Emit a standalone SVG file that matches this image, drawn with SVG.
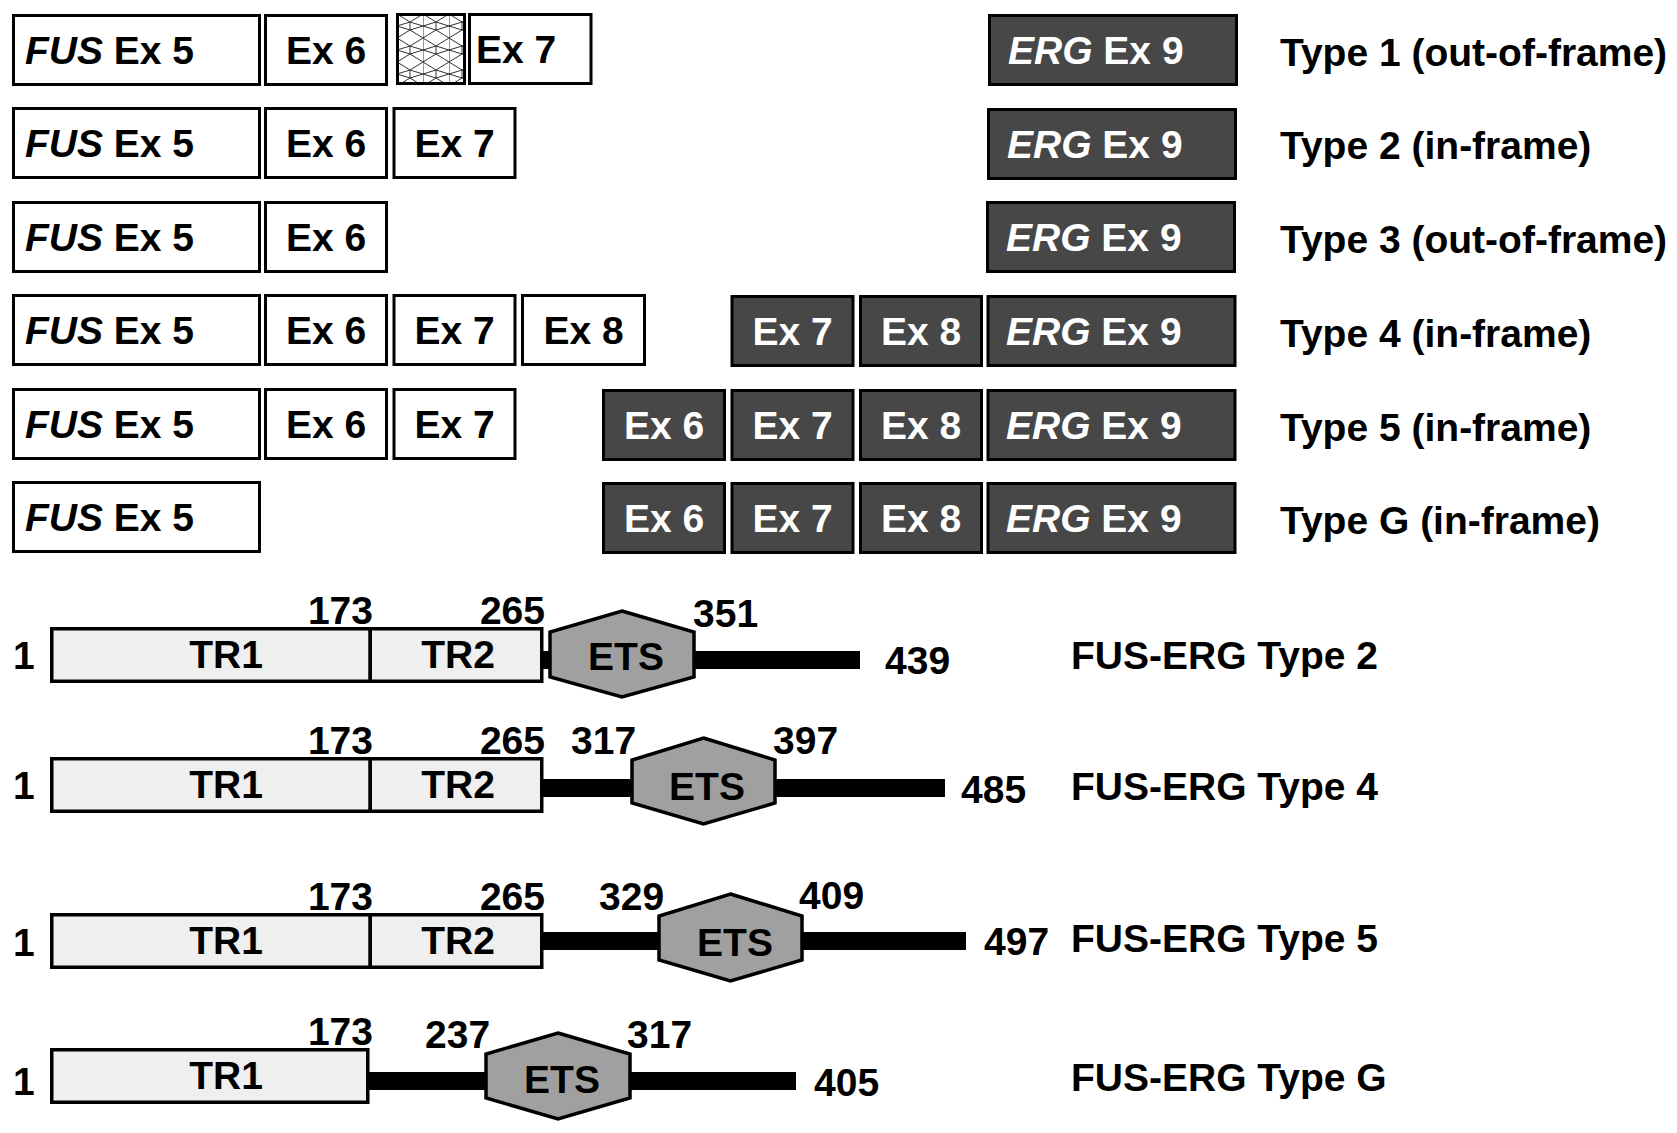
<svg xmlns="http://www.w3.org/2000/svg" width="1677" height="1133" viewBox="0 0 1677 1133">
<defs>
<pattern id="mesh" width="26" height="24" patternUnits="userSpaceOnUse" x="397" y="14">
<rect width="26" height="24" fill="#fff"/>
<path d="M0,0 L13,8 L26,0 M0,24 L13,16 L26,24 M13,8 L13,16 M0,0 L0,24 M13,8 L0,12 L13,16 M13,8 L26,12 L13,16" fill="none" stroke="#333" stroke-width="1"/>
</pattern>
<style>
text{font-family:"Liberation Sans",Arial,sans-serif;font-weight:bold;font-size:39px;fill:#000}
.w{fill:#fff;stroke:#000;stroke-width:3}
.d{fill:#474747;stroke:#000;stroke-width:3}
.dt{fill:#fff}
.c{text-anchor:middle}
.e{text-anchor:end}
.tr{fill:#efefef;stroke:#000;stroke-width:3.5}
.hex{fill:#a0a0a0;stroke:#000;stroke-width:3.5}
.bar{fill:#000}
.i{font-style:italic}
</style>
</defs>
<rect width="1677" height="1133" fill="#fff"/>

<!-- Row 1 -->
<g id="row1">
<rect class="w" x="13.5" y="15.5" width="246" height="69"/>
<text x="25" y="64"><tspan class="i">FUS</tspan> Ex 5</text>
<rect class="w" x="265.5" y="15.5" width="121" height="69"/>
<text class="c" x="326" y="64">Ex 6</text>
<rect x="397.5" y="14.5" width="67" height="69" fill="url(#mesh)" stroke="#000" stroke-width="3"/>
<rect class="w" x="469.5" y="14.5" width="121.5" height="69"/>
<text x="476" y="63">Ex 7</text>
<rect class="d" x="989.5" y="15.5" width="247" height="69"/>
<text class="dt" x="1008" y="64"><tspan class="i">ERG</tspan> Ex 9</text>
<text x="1280" y="66">Type 1 (out-of-frame)</text>
</g>

<!-- Row 2 -->
<g id="row2">
<rect class="w" x="13.5" y="108.5" width="246" height="69"/>
<text x="25" y="157"><tspan class="i">FUS</tspan> Ex 5</text>
<rect class="w" x="265.5" y="108.5" width="121" height="69"/>
<text class="c" x="326" y="157">Ex 6</text>
<rect class="w" x="394" y="108.5" width="121" height="69"/>
<text class="c" x="454.5" y="157">Ex 7</text>
<rect class="d" x="988.5" y="109.5" width="247" height="69"/>
<text class="dt" x="1007" y="158"><tspan class="i">ERG</tspan> Ex 9</text>
<text x="1280" y="159">Type 2 (in-frame)</text>
</g>

<!-- Row 3 -->
<g id="row3">
<rect class="w" x="13.5" y="202.5" width="246" height="69"/>
<text x="25" y="251"><tspan class="i">FUS</tspan> Ex 5</text>
<rect class="w" x="265.5" y="202.5" width="121" height="69"/>
<text class="c" x="326" y="251">Ex 6</text>
<rect class="d" x="987.5" y="202.5" width="247" height="69"/>
<text class="dt" x="1006" y="251"><tspan class="i">ERG</tspan> Ex 9</text>
<text x="1280" y="253">Type 3 (out-of-frame)</text>
</g>

<!-- Row 4 -->
<g id="row4">
<rect class="w" x="13.5" y="295.5" width="246" height="69"/>
<text x="25" y="344"><tspan class="i">FUS</tspan> Ex 5</text>
<rect class="w" x="265.5" y="295.5" width="121" height="69"/>
<text class="c" x="326" y="344">Ex 6</text>
<rect class="w" x="394" y="295.5" width="121" height="69"/>
<text class="c" x="454.5" y="344">Ex 7</text>
<rect class="w" x="522.5" y="295.5" width="122" height="69"/>
<text class="c" x="583.5" y="344">Ex 8</text>
<rect class="d" x="732" y="296.5" width="121" height="69"/>
<text class="c dt" x="792.5" y="345">Ex 7</text>
<rect class="d" x="860.5" y="296.5" width="121" height="69"/>
<text class="c dt" x="921" y="345">Ex 8</text>
<rect class="d" x="988" y="296.5" width="247" height="69"/>
<text class="dt" x="1006" y="345"><tspan class="i">ERG</tspan> Ex 9</text>
<text x="1280" y="347">Type 4 (in-frame)</text>
</g>

<!-- Row 5 -->
<g id="row5">
<rect class="w" x="13.5" y="389.5" width="246" height="69"/>
<text x="25" y="438"><tspan class="i">FUS</tspan> Ex 5</text>
<rect class="w" x="265.5" y="389.5" width="121" height="69"/>
<text class="c" x="326" y="438">Ex 6</text>
<rect class="w" x="394" y="389.5" width="121" height="69"/>
<text class="c" x="454.5" y="438">Ex 7</text>
<rect class="d" x="603.5" y="390.5" width="121" height="69"/>
<text class="c dt" x="664" y="439">Ex 6</text>
<rect class="d" x="732" y="390.5" width="121" height="69"/>
<text class="c dt" x="792.5" y="439">Ex 7</text>
<rect class="d" x="860.5" y="390.5" width="121" height="69"/>
<text class="c dt" x="921" y="439">Ex 8</text>
<rect class="d" x="988" y="390.5" width="247" height="69"/>
<text class="dt" x="1006" y="439"><tspan class="i">ERG</tspan> Ex 9</text>
<text x="1280" y="441">Type 5 (in-frame)</text>
</g>

<!-- Row G -->
<g id="rowG">
<rect class="w" x="13.5" y="482.5" width="246" height="69"/>
<text x="25" y="531"><tspan class="i">FUS</tspan> Ex 5</text>
<rect class="d" x="603.5" y="483.5" width="121" height="69"/>
<text class="c dt" x="664" y="532">Ex 6</text>
<rect class="d" x="732" y="483.5" width="121" height="69"/>
<text class="c dt" x="792.5" y="532">Ex 7</text>
<rect class="d" x="860.5" y="483.5" width="121" height="69"/>
<text class="c dt" x="921" y="532">Ex 8</text>
<rect class="d" x="988" y="483.5" width="247" height="69"/>
<text class="dt" x="1006" y="532"><tspan class="i">ERG</tspan> Ex 9</text>
<text x="1280" y="534">Type G (in-frame)</text>
</g>

<!-- Protein bars (connectors) -->
<g id="connectors">
<rect class="bar" x="540" y="651" width="320" height="18"/>
<rect class="bar" x="540" y="779" width="405" height="18"/>
<rect class="bar" x="540" y="932" width="426" height="18"/>
<rect class="bar" x="365" y="1072" width="431" height="18"/>
</g>

<!-- FUS-ERG Type 2 -->
<g id="protein2">
<text x="13" y="669">1</text>
<rect class="tr" x="51.75" y="628.75" width="318.5" height="52.5"/>
<rect class="tr" x="370.25" y="628.75" width="171.5" height="52.5"/>
<polygon class="hex" points="622,611 694,632 694,677 622,697 550,677 550,632"/>
<text class="c" x="226" y="668">TR1</text>
<text class="c" x="458" y="668">TR2</text>
<text class="c" x="626" y="670">ETS</text>
<text class="e" x="373" y="624">173</text>
<text class="e" x="545" y="624">265</text>
<text x="693" y="627">351</text>
<text x="885" y="674">439</text>
<text x="1071" y="669">FUS-ERG Type 2</text>
</g>

<!-- FUS-ERG Type 4 -->
<g id="protein4">
<text x="13" y="799">1</text>
<rect class="tr" x="51.75" y="758.75" width="318.5" height="52.5"/>
<rect class="tr" x="370.25" y="758.75" width="171.5" height="52.5"/>
<polygon class="hex" points="703.5,738 775,760 775,803 703.5,824 632,803 632,760"/>
<text class="c" x="226" y="798">TR1</text>
<text class="c" x="458" y="798">TR2</text>
<text class="c" x="707" y="800">ETS</text>
<text class="e" x="373" y="754">173</text>
<text class="e" x="545" y="754">265</text>
<text x="571" y="754">317</text>
<text x="773" y="754">397</text>
<text x="961" y="803">485</text>
<text x="1071" y="800">FUS-ERG Type 4</text>
</g>

<!-- FUS-ERG Type 5 -->
<g id="protein5">
<text x="13" y="956">1</text>
<rect class="tr" x="51.75" y="914.75" width="318.5" height="52.5"/>
<rect class="tr" x="370.25" y="914.75" width="171.5" height="52.5"/>
<polygon class="hex" points="730.5,894 802,916 802,960 730.5,981 659,960 659,916"/>
<text class="c" x="226" y="954">TR1</text>
<text class="c" x="458" y="954">TR2</text>
<text class="c" x="735" y="956">ETS</text>
<text class="e" x="373" y="910">173</text>
<text class="e" x="545" y="910">265</text>
<text x="599" y="910">329</text>
<text x="799" y="909">409</text>
<text x="984" y="955">497</text>
<text x="1071" y="952">FUS-ERG Type 5</text>
</g>

<!-- FUS-ERG Type G -->
<g id="proteinG">
<text x="13" y="1095">1</text>
<rect class="tr" x="51.75" y="1049.75" width="316" height="52.5"/>
<polygon class="hex" points="558,1033 630,1054 630,1098 558,1119 486,1098 486,1054"/>
<text class="c" x="226" y="1089">TR1</text>
<text class="c" x="562" y="1093">ETS</text>
<text class="e" x="373" y="1045">173</text>
<text x="425" y="1048">237</text>
<text x="627" y="1048">317</text>
<text x="814" y="1096">405</text>
<text x="1071" y="1091">FUS-ERG Type G</text>
</g>
</svg>
